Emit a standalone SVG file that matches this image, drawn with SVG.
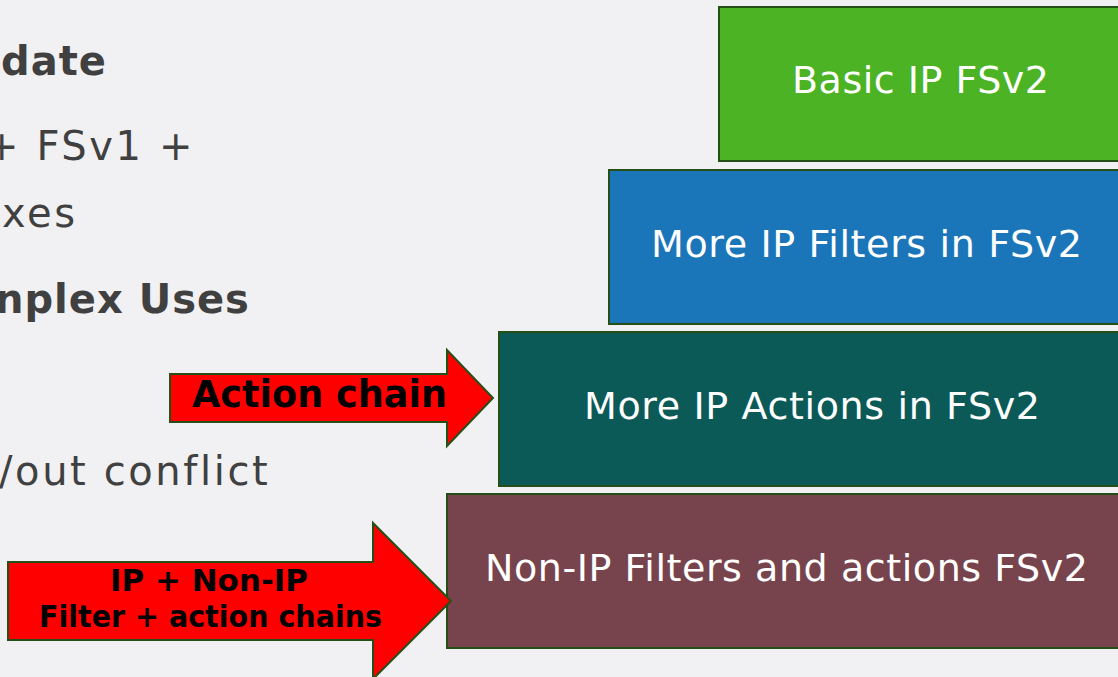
<svg xmlns="http://www.w3.org/2000/svg" width="1118" height="677" viewBox="0 0 1118 677">
  <style>
    .bg { fill: #f1f0f3; }
    .bullet { font-family: "DejaVu Sans", Verdana, sans-serif; font-size: 40px; fill: #404040; letter-spacing: 2.6px; }
    .bullet.b { font-weight: bold; letter-spacing: 1px; }
    .box { stroke: #264f18; stroke-width: 2; }
    .box-label { font-family: "DejaVu Sans", Verdana, sans-serif; font-size: 38px; fill: #ffffff; }
    .arrow { fill: #ff0000; stroke: #264f18; stroke-width: 2; stroke-linejoin: miter; }
    .arrow-label { font-family: "DejaVu Sans", Verdana, sans-serif; font-weight: bold; fill: #000000; }
  </style>

  <rect class="bg" x="0" y="0" width="1118" height="677"/>

  <!-- bullet text on the left, clipped by the page edge -->
  <g id="bullets">
    <text class="bullet b" x="1" y="75">date</text>
    <text class="bullet" x="-15" y="160">+ FSv1 +</text>
    <text class="bullet" x="2" y="227">xes</text>
    <text class="bullet b" x="-5" y="313">nplex Uses</text>
    <text class="bullet" x="-1" y="485">/out conflict</text>
  </g>

  <!-- stacked capability boxes -->
  <g id="basic-ip">
    <rect class="box" x="719" y="7" width="420" height="154" fill="#4bb324"/>
    <text class="box-label" x="792" y="93" textLength="257">Basic IP FSv2</text>
  </g>
  <g id="more-filters">
    <rect class="box" x="609" y="170" width="530" height="154" fill="#1a75b9"/>
    <text class="box-label" x="651" y="257" textLength="431">More IP Filters in FSv2</text>
  </g>
  <g id="more-actions">
    <rect class="box" x="499" y="332" width="640" height="154" fill="#0b5a58"/>
    <text class="box-label" x="584" y="419" textLength="456">More IP Actions in FSv2</text>
  </g>
  <g id="non-ip">
    <rect class="box" x="447" y="494" width="692" height="154" fill="#77444d"/>
    <text class="box-label" x="485" y="581" textLength="603">Non-IP Filters and actions FSv2</text>
  </g>

  <!-- block arrows pointing into the boxes -->
  <g id="connectors">
    <g id="action-chain">
      <polygon class="arrow" points="170,374 447,374 447,350 493,398 447,446 447,422 170,422"/>
      <text class="arrow-label" x="192" y="407" font-size="37" textLength="255" lengthAdjust="spacingAndGlyphs">Action chain</text>
    </g>
    <g id="filter-action-chains">
      <polygon class="arrow" points="8,562 373,562 373,523 451,601 373,679 373,640 8,640"/>
      <text class="arrow-label" x="110" y="591" font-size="30" textLength="198" lengthAdjust="spacingAndGlyphs">IP + Non-IP</text>
      <text class="arrow-label" x="39" y="627" font-size="30" textLength="343" lengthAdjust="spacingAndGlyphs">Filter + action chains</text>
    </g>
  </g>
</svg>
